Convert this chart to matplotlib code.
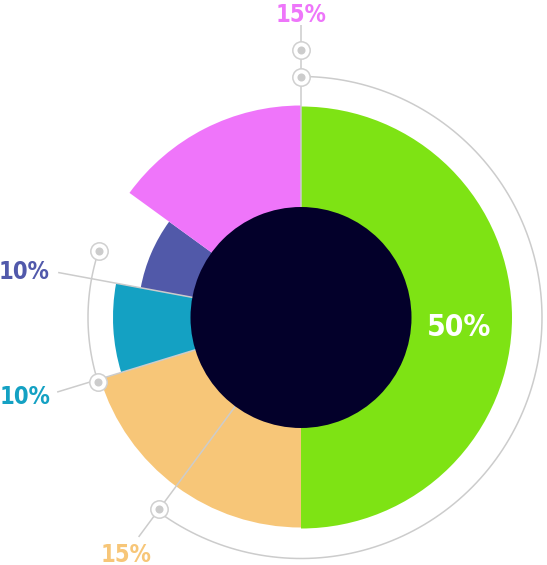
import numpy as np
import matplotlib.pyplot as plt

# Slices, clockwise from 12 o'clock
slice_names = ["green", "orange", "teal", "blue", "pink"]
slice_labels = ["50%", "15%", "10%", "10%", "15%"]
slice_sweep_deg = [180.0, 73.0, 27.5, 25.5, 54.0]
slice_radius = [211, 210, 188, 163, 212]
slice_colors = ["#7ee314", "#f7c678", "#14a1c3", "#5159a9", "#ef75fa"]
label_colors = ["#ffffff", "#f7c678", "#14a1c3", "#5159ab", "#ee76fa"]

HOLE_RADIUS = 110.5
HOLE_COLOR = "#03002a"
GREY = "#cccccc"

# Figure geometry (1 data unit == 1 pixel)
W, H, DPI = 547, 565, 100
CX, CY = 301, 317.5
R = 320

fig = plt.figure(figsize=(W / DPI, H / DPI), dpi=DPI)
ax = fig.add_axes([(CX - R) / W, (H - CY - R) / H, 2 * R / W, 2 * R / H],
                  projection="polar")
ax.set_theta_zero_location("N")
ax.set_theta_direction(-1)
ax.set_ylim(0, R)
ax.axis("off")

# Slices
starts = np.concatenate([[0], np.cumsum(slice_sweep_deg)[:-1]])
ax.bar(np.radians(starts), slice_radius, width=np.radians(slice_sweep_deg),
       bottom=0, align="edge", color=slice_colors, linewidth=0, zorder=1)

# Leader lines (angle in deg, outer radius)
leaders = [(0.0, 292.5), (280.5, 247), (253.0, 255), (216.5, 273)]
for ang, r_out in leaders:
    ax.plot([np.radians(ang)] * 2, [0, r_out], color=GREY, lw=1.1, zorder=2,
            solid_capstyle="butt")

# Connecting arcs
t = np.radians(np.linspace(0, 216.5, 300))
ax.plot(t, np.full_like(t, 241), color=GREY, lw=1.1, zorder=2)
t = np.radians(np.linspace(252.5, 288.2, 100))
ax.plot(t, np.full_like(t, 213), color=GREY, lw=1.1, zorder=2)

# Centre hole
ax.bar(0, HOLE_RADIUS, width=2 * np.pi, bottom=0, color=HOLE_COLOR,
       linewidth=0, zorder=3)

# Markers
markers = [(0.0, 268), (0.0, 241), (288.2, 213), (252.5, 213), (216.5, 238)]
for ang, r in markers:
    ax.plot(np.radians(ang), r, marker="o", ms=12.5, mfc="white", mec="#d0d0d0",
            mew=1.1, zorder=4)
    ax.plot(np.radians(ang), r, marker="o", ms=5.8, mfc=GREY, mec="none",
            zorder=5)

# Labels (index into slices, angle, radius, size)
label_pos = [(0, 92.7, 158.7, 21.5), (1, 216.7, 292.5, 17), (2, 254.4, 286.5, 17),
             (3, 279.8, 281, 17), (4, 0.0, 305.5, 17)]
for i, ang, r, size in label_pos:
    ax.text(np.radians(ang), r, slice_labels[i], color=label_colors[i],
            fontsize=size, fontweight="bold", fontstretch="condensed",
            family="DejaVu Sans", ha="center", va="center_baseline", zorder=6)

fig.savefig("out.png", dpi=DPI)
